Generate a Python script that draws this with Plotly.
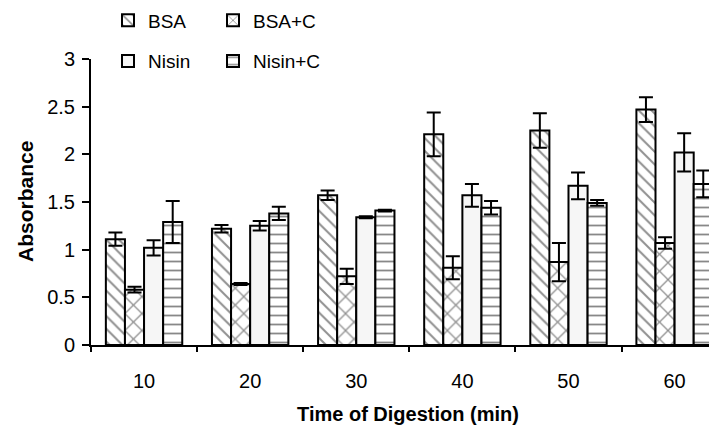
import plotly.graph_objects as go

times = ["10", "20", "30", "40", "50", "60"]
series_names = ["BSA", "BSA+C", "Nisin", "Nisin+C"]

bsa = [1.11, 1.22, 1.57, 2.21, 2.25, 2.47]
bsa_err = [0.07, 0.04, 0.05, 0.23, 0.18, 0.13]
bsa_c = [0.58, 0.64, 0.72, 0.81, 0.87, 1.07]
bsa_c_err = [0.03, 0.01, 0.08, 0.12, 0.20, 0.06]
nisin = [1.02, 1.25, 1.34, 1.57, 1.67, 2.02]
nisin_err = [0.08, 0.05, 0.01, 0.12, 0.14, 0.20]
nisin_c = [1.29, 1.38, 1.41, 1.44, 1.49, 1.69]
nisin_c_err = [0.22, 0.07, 0.01, 0.07, 0.03, 0.14]

values = [bsa, bsa_c, nisin, nisin_c]
errors = [bsa_err, bsa_c_err, nisin_err, nisin_c_err]

patterns = [
    dict(shape="\\", bgcolor="white", fgcolor="#222222", size=9, solidity=0.22),
    dict(shape="x", bgcolor="white", fgcolor="#222222", size=12, solidity=0.2),
    None,
    dict(shape="-", bgcolor="white", fgcolor="#111111", size=9, solidity=0.2),
]
colors = ["white", "white", "#f6f6f6", "white"]
legends = ["legend", "legend2", "legend3", "legend4"]

FONT = "Liberation Sans, Arial, sans-serif"

fig = go.Figure()
for name, vals, errs, pat, col, lg in zip(series_names, values, errors, patterns, colors, legends):
    marker = dict(color=col, line=dict(color="black", width=2))
    if pat is not None:
        marker["pattern"] = pat
    fig.add_trace(go.Bar(
        x=times, y=vals, name=name, marker=marker, legend=lg,
        error_y=dict(type="data", array=errs, visible=True, color="black", thickness=2, width=7),
    ))

def leg(x, y):
    return dict(orientation="h", xref="container", yref="paper", x=x, y=y,
                xanchor="left", yanchor="top", font=dict(size=19),
                bgcolor="rgba(0,0,0,0)", itemwidth=30)

fig.update_layout(
    width=717, height=426,
    paper_bgcolor="white", plot_bgcolor="white",
    margin=dict(l=83, r=0, t=51, b=89, autoexpand=False),
    barmode="group", bargap=0.28, bargroupgap=0,
    font=dict(family=FONT, size=20, color="black"),
    legend=leg(0.1395, 1.201),
    legend2=leg(0.2859, 1.201),
    legend3=leg(0.1395, 1.059),
    legend4=leg(0.2859, 1.059),
    showlegend=True,
    annotations=[dict(
        text="<b>Absorbance</b>", textangle=-90, xref="paper", yref="paper",
        x=-0.1041, y=0.5, xanchor="center", yanchor="middle", showarrow=False,
        font=dict(size=21),
    )],
)
fig.update_xaxes(
    type="category", range=[-0.5, 5.475],
    showline=True, linecolor="black", linewidth=2,
    ticks="outside", tickson="boundaries", ticklen=5, tickwidth=2, tickcolor="black",
    ticklabelstandoff=17, showgrid=False,
    title=dict(text="<b>Time of Digestion (min)</b>", font=dict(size=20), standoff=16),
)
fig.update_yaxes(
    range=[0, 3], dtick=0.5, tick0=0,
    showline=True, linecolor="black", linewidth=2,
    ticks="outside", ticklen=7, tickwidth=2, tickcolor="black",
    ticklabelstandoff=3,
    showgrid=False, zeroline=False,
)

fig.write_html("out.html")
